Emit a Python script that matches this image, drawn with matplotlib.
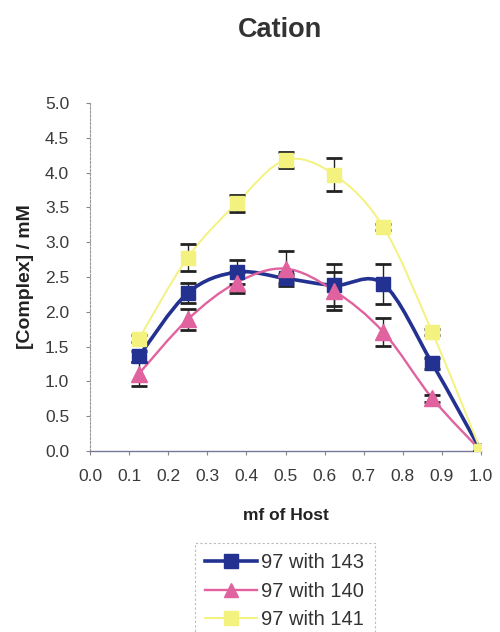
import numpy as np
import matplotlib
matplotlib.use("Agg")
import matplotlib.pyplot as plt
from matplotlib.path import Path
from matplotlib.patches import PathPatch
from matplotlib.lines import Line2D

plt.rcParams["font.family"] = ["Liberation Sans", "DejaVu Sans"]

# mole fraction of host
mf_host = [0.125, 0.25, 0.375, 0.5, 0.625, 0.75, 0.875, 1.0]

# complex concentration (mM) and error bars for each guest pairing
c_143 = [1.36, 2.27, 2.57, 2.48, 2.38, 2.40, 1.26, 0.0]
e_143 = [0.08, 0.14, 0.17, 0.06, 0.30, 0.29, 0.08, 0.0]

c_140 = [1.11, 1.89, 2.42, 2.62, 2.30, 1.71, 0.76, 0.0]
e_140 = [0.17, 0.15, 0.15, 0.25, 0.27, 0.20, 0.05, 0.0]

c_141 = [1.61, 2.78, 3.56, 4.18, 3.97, 3.22, 1.71, 0.0]
e_141 = [0.05, 0.20, 0.12, 0.12, 0.24, 0.04, 0.04, 0.0]

labels = ["97 with 143", "97 with 140", "97 with 141"]
colors = ["#233190", "#E0629E", "#F4F27E"]
markers = ["s", "^", "s"]
line_w = [2.6, 1.7, 1.4]
mk_size = [10.5, 11.5, 10.5]

x_ticks = [round(0.1 * i, 1) for i in range(11)]
y_ticks = [round(0.5 * i, 1) for i in range(11)]


def smooth_path(xs, ys, tension=1.0 / 6.0):
    """Bezier path through the points, in the style of a smoothed spreadsheet line."""
    pts = np.column_stack([xs, ys])
    n = len(pts)
    verts = [pts[0]]
    codes = [Path.MOVETO]
    for i in range(n - 1):
        p0 = pts[i - 1] if i > 0 else pts[i]
        p1 = pts[i]
        p2 = pts[i + 1]
        p3 = pts[i + 2] if i + 2 < n else pts[i + 1]
        c1 = p1 + (p2 - p0) * tension
        c2 = p2 - (p3 - p1) * tension
        verts += [c1, c2, p2]
        codes += [Path.CURVE4] * 3
    return Path(verts, codes)


fig = plt.figure(figsize=(5.0, 6.32), dpi=100)
ax = fig.add_axes([0.18, 0.2864, 0.782, 0.5506])

series = [(c_143, e_143), (c_140, e_140), (c_141, e_141)]
order = [2, 1, 0]
for k in order:
    ys, es = series[k]
    patch = PathPatch(smooth_path(mf_host, ys), facecolor="none",
                      edgecolor=colors[k], lw=line_w[k], zorder=2 + k * 0.1,
                      capstyle="round", joinstyle="round")
    ax.add_patch(patch)

for k in order:
    ys, es = series[k]
    ax.errorbar(mf_host, ys, yerr=es, fmt="none", ecolor="#222222",
                elinewidth=1.0, capsize=6, capthick=2.0, zorder=3)
    ax.plot(mf_host, ys, linestyle="none", marker=markers[k], markersize=mk_size[k],
            markerfacecolor=colors[k], markeredgecolor=colors[k], zorder=4 + k * 0.1)

ax.set_xlim(0, 1.0)
ax.set_ylim(0, 5.0)
ax.set_xticks(x_ticks)
ax.set_xticklabels([f"{v:.1f}" for v in x_ticks])
ax.set_yticks(y_ticks)
ax.set_yticklabels([f"{v:.1f}" for v in y_ticks])
ax.tick_params(axis="both", labelsize=12.5, labelcolor="#3a3a3a", color="#888888",
               length=3, width=0.8, direction="out")
ax.tick_params(axis="x", pad=10)
ax.tick_params(axis="y", pad=12)

for side in ["top", "right"]:
    ax.spines[side].set_visible(False)
ax.spines["left"].set_color("#999999")
ax.spines["left"].set_linestyle((0, (2, 1.5)))
ax.spines["left"].set_linewidth(0.8)
ax.spines["bottom"].set_color("#777799")
ax.spines["bottom"].set_linewidth(1.0)

ax.set_xlabel("mf of Host", fontsize=12.5, fontweight="bold", color="#222222", labelpad=17)
ax.set_ylabel("[Complex] / mM", fontsize=14, fontweight="bold", color="#222222", labelpad=8)

fig.text(0.56, 0.9525, "Cation", ha="center", va="center", fontsize=19.5,
         fontweight="bold", color="#333333")

handles = [Line2D([0], [0], color=colors[k], lw=line_w[k], marker=markers[k],
                  markersize=mk_size[k] - 1,
                  markerfacecolor=colors[k], markeredgecolor=colors[k])
           for k in range(3)]
leg = fig.legend(handles, labels, loc="upper left", bbox_to_anchor=(0.39, 0.141),
                 frameon=True, fontsize=14.5, handlelength=2.6, handletextpad=0.2,
                 labelspacing=0.48, borderpad=0.5, borderaxespad=0, fancybox=False)
leg.get_frame().set_edgecolor("#aaaaaa")
leg.get_frame().set_linestyle((0, (2, 2)))
leg.get_frame().set_linewidth(0.8)
for t in leg.get_texts():
    t.set_color("#333333")

fig.savefig("out.png", dpi=100)
